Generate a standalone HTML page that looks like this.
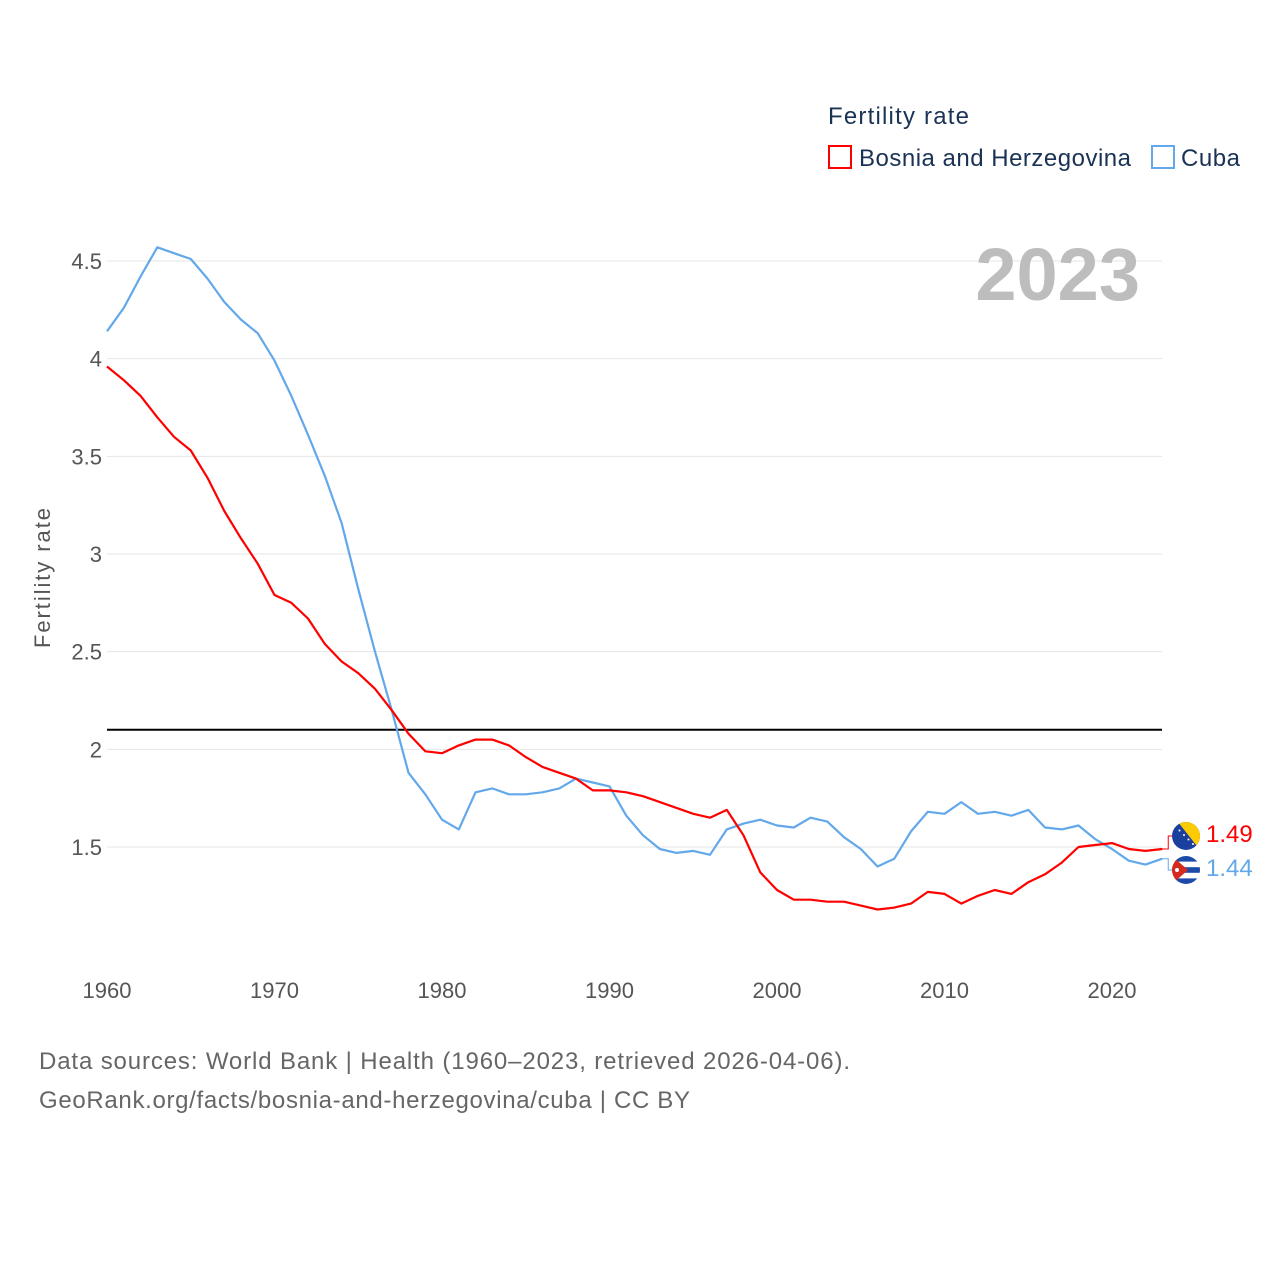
<!DOCTYPE html>
<html><head><meta charset="utf-8"><style>
body{margin:0;background:#fff;}
svg{display:block;font-family:"Liberation Sans",sans-serif;}
</style></head><body>
<svg id="c" width="1280" height="1280" viewBox="0 0 1280 1280"></svg>
<script>
const years=[];for(let y=1960;y<=2023;y++)years.push(y);
const cuba=[4.14,4.26,4.42,4.57,4.54,4.51,4.41,4.29,4.20,4.13,3.99,3.81,3.61,3.40,3.16,2.82,2.50,2.20,1.88,1.77,1.64,1.59,1.78,1.80,1.77,1.77,1.78,1.80,1.85,1.83,1.81,1.66,1.56,1.49,1.47,1.48,1.46,1.59,1.62,1.64,1.61,1.60,1.65,1.63,1.55,1.49,1.40,1.44,1.58,1.68,1.67,1.73,1.67,1.68,1.66,1.69,1.60,1.59,1.61,1.54,1.49,1.43,1.41,1.44];
const bosnia=[3.96,3.89,3.81,3.70,3.60,3.53,3.39,3.22,3.08,2.95,2.79,2.75,2.67,2.54,2.45,2.39,2.31,2.20,2.08,1.99,1.98,2.02,2.05,2.05,2.02,1.96,1.91,1.88,1.85,1.79,1.79,1.78,1.76,1.73,1.70,1.67,1.65,1.69,1.56,1.37,1.28,1.23,1.23,1.22,1.22,1.20,1.18,1.19,1.21,1.27,1.26,1.21,1.25,1.28,1.26,1.32,1.36,1.42,1.50,1.51,1.52,1.49,1.48,1.49];
const yTicks=[1.5,2,2.5,3,3.5,4,4.5];
const yTickLabels=["1.5","2","2.5","3","3.5","4","4.5"];
const xTicks=[1960,1970,1980,1990,2000,2010,2020];
const replacement=[2.1];
const NS="http://www.w3.org/2000/svg";
const svg=document.getElementById('c');
const X=y=>107+(y-1960)*(1005/60);
const Y=v=>847-(v-1.5)*(586/3);
function el(t,a,p){const e=document.createElementNS(NS,t);for(const k in a)e.setAttribute(k,a[k]);(p||svg).appendChild(e);return e;}
function txt(s,a){const e=el('text',a);e.textContent=s;return e;}
yTicks.forEach((v,i)=>{
  const g=el('line',{x1:107,x2:1162,y1:Y(v),y2:Y(v),stroke:'#e6e6e6','stroke-width':1});
  
  
  const t=txt(yTickLabels[i],{x:102,y:Y(v)+8,'text-anchor':'end','font-size':22,fill:'#555'});
  
  
});
xTicks.forEach(v=>{
  const t=txt(String(v),{x:X(v),y:998,'text-anchor':'middle','font-size':22,fill:'#555'});
  
  
});
const yt=txt('Fertility rate',{x:0,y:0,transform:'translate(50,578) rotate(-90)','text-anchor':'middle','font-size':22,fill:'#555',textLength:140});


const yr=txt('2023',{x:1140,y:300,'text-anchor':'end','font-size':74,'font-weight':'bold',fill:'#bdbdbd'});


replacement.forEach(v=>{
  const l=el('line',{x1:107,x2:1162,y1:Y(v),y2:Y(v),stroke:'#000','stroke-width':2});
  
  
});
function series(vals,color,name){
  const d=vals.map((v,i)=>(i?'L':'M')+X(years[i]).toFixed(1)+','+Y(v).toFixed(1)).join('');
  const p=el('path',{d:d,fill:'none',stroke:color,'stroke-width':2.2,'stroke-linejoin':'round'});
  
  
}
series(cuba,'#62a8ea','cuba-line');
series(bosnia,'#ff0000','bosnia-line');
const lb=bosnia[bosnia.length-1], lc=cuba[cuba.length-1];
const ex=X(2023);
const c1=el('path',{d:`M${ex},${Y(lb)}H${ex+6}V836H${ex+12}`,fill:'none',stroke:'#ff0000','stroke-width':1});


const c2=el('path',{d:`M${ex},${Y(lc)}H${ex+6}V870H${ex+12}`,fill:'none',stroke:'#62a8ea','stroke-width':1});


const defs=el('defs',{});
const cp1=el('clipPath',{id:'f1'},defs);el('circle',{cx:1186,cy:836,r:14},cp1);
const cp2=el('clipPath',{id:'f2'},defs);el('circle',{cx:1186,cy:870,r:14},cp2);
const g1=el('g',{'clip-path':'url(#f1)'});


el('rect',{x:1172,y:822,width:28,height:28,fill:'#1b3f9c'},g1);
el('polygon',{points:'1178,822 1200,822 1200,850',fill:'#fecb00'},g1);
for(let i=0;i<5;i++)el('circle',{cx:1175+i*4.5,cy:826+i*4.5,r:1,fill:'#fff'},g1);
const g2=el('g',{'clip-path':'url(#f2)'});


el('rect',{x:1172,y:856,width:28,height:28,fill:'#fff'},g2);
for(let i=0;i<3;i++)el('rect',{x:1172,y:856+i*11.2,width:28,height:5.6,fill:'#1b4aa8'},g2);
el('polygon',{points:'1172,856 1188,870 1172,884',fill:'#d52b1e'},g2);
el('circle',{cx:1177,cy:870,r:2,fill:'#fff'},g2);
const v1=txt(lb.toFixed(2),{x:1206,y:842,'font-size':24,fill:'#ff0000'});


const v2=txt(lc.toFixed(2),{x:1206,y:876,'font-size':24,fill:'#62a8ea'});


const lt=txt('Fertility rate',{x:828,y:124,'font-size':24,fill:'#1a3354',textLength:141});


const r1=el('rect',{x:829,y:146,width:22,height:22,fill:'none',stroke:'#ff0000','stroke-width':2});


const l1=txt('Bosnia and Herzegovina',{x:859,y:166,'font-size':24,fill:'#1a3354',textLength:272});


const r2=el('rect',{x:1152,y:146,width:22,height:22,fill:'none',stroke:'#62a8ea','stroke-width':2});


const l2=txt('Cuba',{x:1181,y:166,'font-size':24,fill:'#1a3354',textLength:59});


const s1=txt('Data sources: World Bank | Health (1960–2023, retrieved 2026-04-06).',{x:39,y:1069,'font-size':24,fill:'#666',textLength:811});


const s2=txt('GeoRank.org/facts/bosnia-and-herzegovina/cuba | CC BY',{x:39,y:1108,'font-size':24,fill:'#666',textLength:651});


</script>
</body></html>
